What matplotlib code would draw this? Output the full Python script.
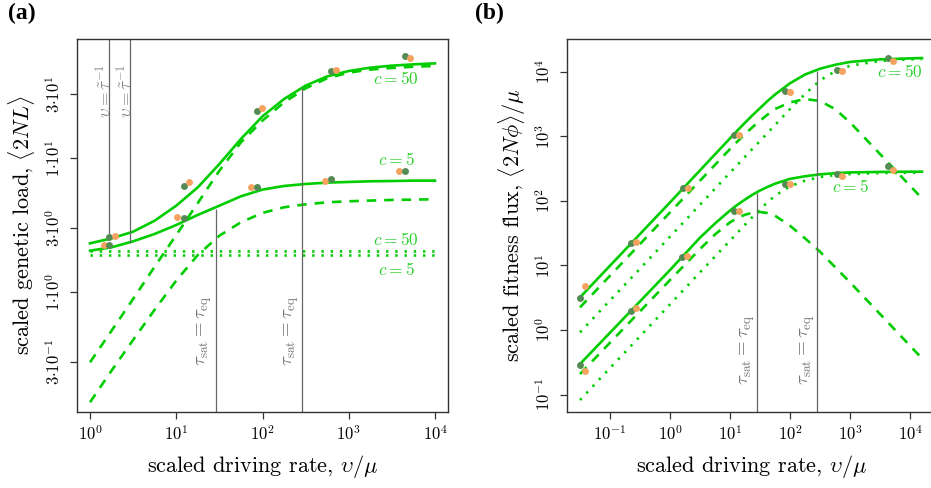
import numpy as np
import matplotlib
matplotlib.use("Agg")
import matplotlib.pyplot as plt

plt.rcParams["font.family"] = ["cmr10", "DejaVu Serif"]
plt.rcParams["mathtext.fontset"] = "cm"
plt.rcParams["axes.unicode_minus"] = False
plt.rcParams["axes.formatter.use_mathtext"] = True

# ---- panel (a): scaled genetic load (values as log10) ----
lx_a = [0, 0.25, 0.5, 0.75, 1, 1.25, 1.5, 1.75, 2, 2.25, 2.5, 2.75, 3,
        3.25, 3.5, 3.75, 4]
load_tot_50 = [0.363, 0.400, 0.450, 0.532, 0.644, 0.781, 0.955, 1.142, 1.311,
               1.440, 1.540, 1.609, 1.649, 1.674, 1.689, 1.699, 1.706]
load_tot_5 = [0.308, 0.333, 0.378, 0.433, 0.500, 0.575, 0.644, 0.714, 0.764,
              0.791, 0.806, 0.816, 0.821, 0.826, 0.828, 0.831, 0.831]
load_drv_50 = [-0.525, -0.289, -0.052, 0.189, 0.425, 0.664, 0.905, 1.117,
               1.279, 1.415, 1.520, 1.595, 1.637, 1.660, 1.672, 1.681, 1.687]
load_drv_5 = [-0.823, -0.587, -0.358, -0.132, 0.085, 0.276, 0.420, 0.520,
              0.590, 0.632, 0.654, 0.669, 0.677, 0.682, 0.687, 0.689, 0.692]
load_eq_50 = 0.306
load_eq_5 = 0.276

# simulation points (log10 v/mu, log10 load)
sim_a_green_50 = ([0.224, 1.086, 1.936, 2.794, 3.652],
                  [0.410, 0.789, 1.353, 1.647, 1.759])
sim_a_orange_50 = ([0.286, 1.144, 1.998, 2.856, 3.710],
                   [0.420, 0.818, 1.371, 1.657, 1.749])
sim_a_green_5 = ([0.224, 1.086, 1.936, 2.794, 3.652],
                 [0.351, 0.550, 0.781, 0.843, 0.905])
sim_a_orange_5 = ([0.158, 1.009, 1.867, 2.721, 3.579],
                  [0.351, 0.557, 0.786, 0.826, 0.905])

# marker lines (log10 v/mu, log10 of curve end)
tinv_a = [(0.224, 0.408), (0.468, 0.366)]
tsat_a = [(1.457, 0.619), (2.460, 1.520)]

# ---- panel (b): scaled fitness flux (values as log10) ----
lx_b = [-1.5, -1, -0.5, 0, 0.5, 0.75, 1, 1.125, 1.25, 1.375, 1.5, 1.625,
        1.75, 2, 2.25, 2.5, 2.75, 3, 3.5, 4, 4.2]
flux_tot_50 = [0.506, 0.996, 1.486, 1.976, 2.472, 2.720, 2.967, 3.090, 3.210,
               3.325, 3.435, 3.545, 3.645, 3.820, 3.955, 4.045, 4.105, 4.150,
               4.190, 4.205, 4.210]
flux_tot_5 = [-0.526, -0.041, 0.444, 0.929, 1.430, 1.650, 1.850, 1.940, 2.020,
              2.095, 2.160, 2.215, 2.265, 2.340, 2.380, 2.410, 2.428, 2.440,
              2.447, 2.451, 2.451]
flux_drv_50 = [0.351, 0.841, 1.331, 1.821, 2.312, 2.557, 2.802, 2.920, 3.034,
               3.140, 3.240, 3.335, 3.421, 3.524, 3.576, 3.545, 3.421, 3.215,
               2.724, 2.234, 2.038]
flux_drv_5 = [-0.681, -0.196, 0.289, 0.774, 1.254, 1.480, 1.667, 1.735, 1.785,
              1.815, 1.827, 1.810, 1.770, 1.615, 1.419, 1.213, 0.975, 0.738,
              0.248, -0.243, -0.439]
flux_eq_50 = [-0.036, 0.459, 0.949, 1.445, 1.940, 2.188, 2.435, 2.559, 2.683,
              2.805, 2.926, 3.050, 3.173, 3.421, 3.653, 3.865, 4.004, 4.092,
              4.164, 4.190, 4.195]
flux_eq_5 = [-1.084, -0.588, -0.098, 0.397, 0.893, 1.138, 1.383, 1.507, 1.631,
             1.752, 1.868, 1.978, 2.079, 2.224, 2.312, 2.369, 2.399, 2.415,
             2.430, 2.435, 2.435]

sim_b_green_50 = ([-1.5, -0.644, 0.211, 1.067, 1.922, 2.783, 3.633],
                  [0.490, 1.347, 2.198, 3.024, 3.695, 4.030, 4.205])
sim_b_orange_50 = ([-1.422, -0.567, 0.294, 1.144, 2.006, 2.867, 3.717],
                   [0.686, 1.357, 2.193, 3.019, 3.679, 4.014, 4.159])
sim_b_green_5 = ([-1.5, -0.644, 0.200, 1.061, 1.922, 2.783, 3.633],
                 [-0.542, 0.294, 1.125, 1.847, 2.260, 2.410, 2.539])
sim_b_orange_5 = ([-1.422, -0.567, 0.283, 1.144, 1.994, 2.861, 3.717],
                  [-0.635, 0.335, 1.140, 1.847, 2.255, 2.389, 2.472])

tsat_b = [(1.450, 2.120), (2.450, 4.014)]

# ---- styles ----
GREEN = "#00cd00"
LABEL_GREEN = "#2fcf2f"
DOT_GREEN = "#548b54"
DOT_ORANGE = "#f4a460"
GRAY = "#666666"
LW = 1.9
DASH = (0, (3.6, 3.0))
DOT = (0, (0.9, 2.6))


def p(a):
    return 10.0 ** np.asarray(a, dtype=float)


def style_axes(ax):
    ax.set_xscale("log")
    ax.set_yscale("log")
    for s in ax.spines.values():
        s.set_linewidth(1.0)
        s.set_color("#333333")
    ax.tick_params(which="both", direction="out", length=5, width=0.9,
                   color="#333333", labelsize=12)
    ax.minorticks_off()


def dots(ax, pts, color):
    ax.plot(p(pts[0]), p(pts[1]), "o", ms=5.0, color=color, mec="none",
            zorder=5)


fig = plt.figure(figsize=(9.31, 4.88), dpi=100)
W, H = 931.0, 488.0
ax1 = fig.add_axes([77 / W, 1 - 412 / H, 371 / W, 373 / H])
ax2 = fig.add_axes([567 / W, 1 - 412 / H, 369 / W, 373 / H])

TSAT = r"$\tau_{\rm sat} = \tau_{\rm eq}$"

# ---------- panel (a) ----------
ax = ax1
style_axes(ax)
xa = p(lx_a)
ax.plot(xa, p(load_tot_50), color=GREEN, lw=LW)
ax.plot(xa, p(load_tot_5), color=GREEN, lw=LW)
ax.plot(xa, p(load_drv_50), color=GREEN, lw=LW, ls=DASH)
ax.plot(xa, p(load_drv_5), color=GREEN, lw=LW, ls=DASH)
ax.plot([xa[0], xa[-1]], p([load_eq_50, load_eq_50]), color=GREEN, lw=LW,
        ls=DOT)
ax.plot([xa[0], xa[-1]], p([load_eq_5, load_eq_5]), color=GREEN, lw=LW,
        ls=DOT)

for lx, ly in tinv_a:
    ax.vlines(10 ** lx, 10 ** ly, 1e3, color=GRAY, lw=0.9)
    ax.text(10 ** (lx - 0.06), 10 ** 1.50, r"$\upsilon = \tilde{\tau}^{-1}$",
            rotation=90, ha="center", va="center", color="#8a8a8a",
            fontsize=12.5)
for lx, ly in tsat_a:
    ax.vlines(10 ** lx, 1e-3, 10 ** ly, color=GRAY, lw=0.9)
    ax.text(10 ** (lx - 0.125), 10 ** -0.29, TSAT,
            rotation=90, ha="center", va="center", color="#777777",
            fontsize=13.5)

dots(ax, sim_a_green_50, DOT_GREEN)
dots(ax, sim_a_orange_50, DOT_ORANGE)
dots(ax, sim_a_orange_5, DOT_ORANGE)
dots(ax, sim_a_green_5, DOT_GREEN)

for ly, lab in [(1.59, "$c = 50$"), (0.99, "$c = 5$"),
                (0.395, "$c = 50$"), (0.17, "$c = 5$")]:
    ax.text(10 ** 3.55, 10 ** ly, lab, color=LABEL_GREEN, fontsize=12.5,
            ha="center", va="center")

ax.set_xlim(10 ** -0.151, 10 ** 4.151)
ax.set_ylim(10 ** -0.896, 10 ** 1.888)
ax.set_xticks([1, 10, 100, 1000, 10000])
ax.set_xticklabels([r"$10^{0}$", r"$10^{1}$", r"$10^{2}$", r"$10^{3}$",
                    r"$10^{4}$"])
ax.set_yticks([0.3, 1, 3, 10, 30])
ax.set_yticklabels([r"$3{\cdot}10^{-1}$", r"$1{\cdot}10^{0}$",
                    r"$3{\cdot}10^{0}$", r"$1{\cdot}10^{1}$",
                    r"$3{\cdot}10^{1}$"], rotation=90, va="center")
ax.set_xlabel(r"scaled driving rate, $\upsilon/\mu$", fontsize=16)
ax.set_ylabel(r"scaled genetic load, $\langle 2NL\rangle$", fontsize=16)

# ---------- panel (b) ----------
ax = ax2
style_axes(ax)
xb = p(lx_b)
ax.plot(xb, p(flux_tot_50), color=GREEN, lw=LW)
ax.plot(xb, p(flux_tot_5), color=GREEN, lw=LW)
ax.plot(xb, p(flux_drv_50), color=GREEN, lw=LW, ls=DASH)
ax.plot(xb, p(flux_drv_5), color=GREEN, lw=LW, ls=DASH)
ax.plot(xb, p(flux_eq_50), color=GREEN, lw=LW, ls=DOT)
ax.plot(xb, p(flux_eq_5), color=GREEN, lw=LW, ls=DOT)

for lx, ly in tsat_b:
    ax.vlines(10 ** lx, 1e-3, 10 ** ly, color=GRAY, lw=0.9)
    ax.text(10 ** (lx - 0.16), 10 ** -0.31, TSAT,
            rotation=90, ha="center", va="center", color="#777777",
            fontsize=13.5)

dots(ax, sim_b_green_50, DOT_GREEN)
dots(ax, sim_b_orange_50, DOT_ORANGE)
dots(ax, sim_b_green_5, DOT_GREEN)
dots(ax, sim_b_orange_5, DOT_ORANGE)

ax.text(10 ** 3.83, 10 ** 4.0, "$c = 50$", color=LABEL_GREEN, fontsize=12.5,
        ha="center", va="center")
ax.text(10 ** 3.0, 10 ** 2.22, "$c = 5$", color=LABEL_GREEN, fontsize=12.5,
        ha="center", va="center")

ax.set_xlim(10 ** -1.717, 10 ** 4.433)
ax.set_ylim(10 ** -1.269, 10 ** 4.505)
ax.set_xticks([0.1, 1, 10, 100, 1000, 10000])
ax.set_xticklabels([r"$10^{-1}$", r"$10^{0}$", r"$10^{1}$", r"$10^{2}$",
                    r"$10^{3}$", r"$10^{4}$"])
ax.set_yticks([0.1, 1, 10, 100, 1000, 10000])
ax.set_yticklabels([r"$10^{-1}$", r"$10^{0}$", r"$10^{1}$", r"$10^{2}$",
                    r"$10^{3}$", r"$10^{4}$"], rotation=90, va="center")
ax.set_xlabel(r"scaled driving rate, $\upsilon/\mu$", fontsize=16)
ax.set_ylabel(r"scaled fitness flux, $\langle 2N\phi\rangle/\mu$",
              fontsize=16)

for ax in (ax1, ax2):
    ax.xaxis.set_label_coords(0.5, -0.147)
    ax.xaxis.label.set_va("center")
    ax.yaxis.set_label_coords(-0.150, 0.5)
    ax.yaxis.label.set_va("center")
    ax.tick_params(axis="y", pad=5)
    ax.tick_params(axis="x", pad=4)

fig.text(8 / W, 1 - 3 / H, "(a)", fontsize=17, fontweight="bold",
         family="Liberation Serif", ha="left", va="top")
fig.text(475 / W, 1 - 3 / H, "(b)", fontsize=17, fontweight="bold",
         family="Liberation Serif", ha="left", va="top")

fig.savefig("out.png", dpi=100)
